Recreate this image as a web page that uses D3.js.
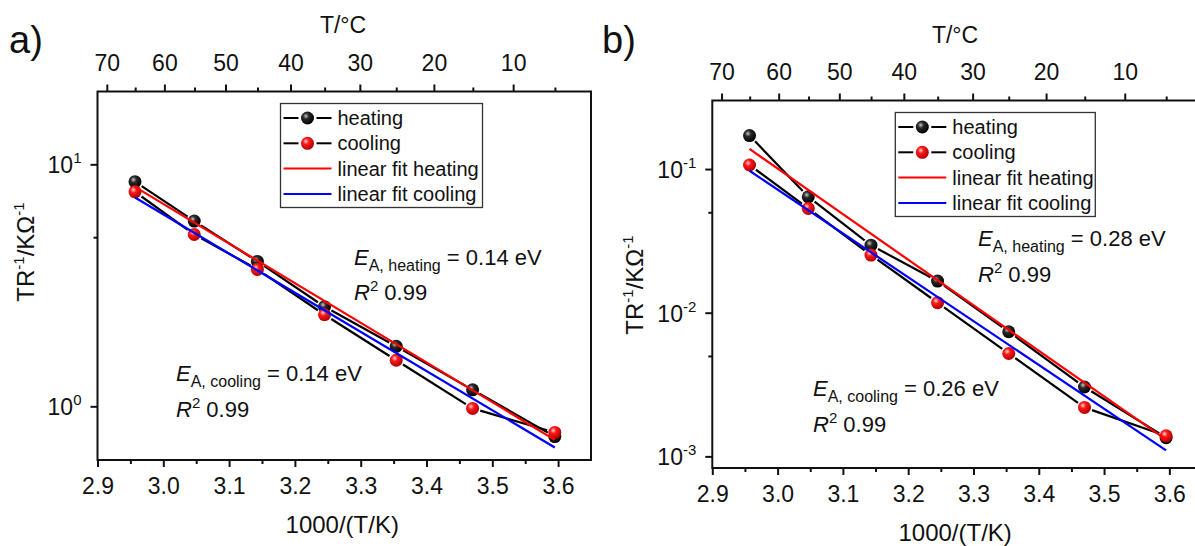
<!DOCTYPE html>
<html>
<head>
<meta charset="utf-8">
<script src="https://cdn.jsdelivr.net/npm/d3@7"></script>
<style>
  body { margin: 0; background: #fff; }
  svg { font-family: "Liberation Sans", Arial, sans-serif; }
</style>
</head>
<body>
<script>
// x-Werte: 1000/(T/K) für 65, 55, ... 5 °C
const invT = [2.957, 3.047, 3.143, 3.245, 3.354, 3.470, 3.595];

// Panel a
const heatingA = [8.48, 5.83, 3.97, 2.58, 1.77, 1.17, 0.75];
const coolingA = [7.70, 5.13, 3.68, 2.39, 1.55, 0.98, 0.78];
const fitHeatingA = [8.07, 0.727];   // Fit-Werte am ersten und letzten Punkt
const fitCoolingA = [7.29, 0.676];

// Panel b
const heatingB = [0.171, 0.0641, 0.0295, 0.0166, 0.00737, 0.00304, 0.00135];
const coolingB = [0.1067, 0.0532, 0.0252, 0.01175, 0.0052, 0.00219, 0.00139];
const fitHeatingB = [0.138, 0.001306];
const fitCoolingB = [0.0973, 0.0011];

// Achsen
const xMajor = [2.9, 3.0, 3.1, 3.2, 3.3, 3.4, 3.5, 3.6];
const xMinor = [2.95, 3.05, 3.15, 3.25, 3.35, 3.45, 3.55];
const topMajorC = [70, 60, 50, 40, 30, 20, 10];
const topMinorC = [65, 55, 45, 35, 25, 15, 5];
const legendLabels = ["heating", "cooling", "linear fit heating", "linear fit cooling"];

const W = 1195, H = 546;
const ink = "#111";
const svg = d3.select("body").append("svg").attr("width", W).attr("height", H);
svg.append("rect").attr("width", W).attr("height", H).attr("fill", "#fff");

// Kugel-Marker
const defs = svg.append("defs");
function sphere(id, hi, mid, dark) {
    const gr = defs.append("radialGradient").attr("id", id)
        .attr("cx", "38%").attr("cy", "35%").attr("r", "65%");
    gr.append("stop").attr("offset", "0%").attr("stop-color", hi);
    gr.append("stop").attr("offset", "35%").attr("stop-color", mid);
    gr.append("stop").attr("offset", "100%").attr("stop-color", dark);
}
sphere("ballBlack", "#c8c8c8", "#2a2a2a", "#000");
sphere("ballRed", "#ffd6d6", "#ff1a1a", "#b00000");

const toInvT = c => 1000 / (c + 273.15);

function drawPanel(p) {
    const x = d3.scaleLinear().domain([2.9, 3.65]).range([p.left, p.right]);
    const y = d3.scaleLog().domain(p.yDomain).range([p.bottom, p.top]);
    const g = svg.append("g");

    const styleAxis = sel => {
        sel.select(".domain").remove();
        sel.selectAll("line").attr("stroke", ink).attr("stroke-width", 2);
        sel.selectAll("text").attr("fill", ink).attr("font-size", 23)
            .attr("font-family", "Liberation Sans, Arial, sans-serif");
    };

    // unten
    g.append("g").attr("transform", `translate(0,${p.bottom})`)
        .call(d3.axisBottom(x).tickValues(xMajor).tickSize(7).tickSizeOuter(0).tickFormat(d3.format(".1f")))
        .call(styleAxis)
        .call(s => s.selectAll("text").attr("y", 34).attr("dy", 0));
    g.append("g").attr("transform", `translate(0,${p.bottom})`)
        .call(d3.axisBottom(x).tickValues(xMinor).tickSize(4).tickSizeOuter(0).tickFormat(""))
        .call(styleAxis);

    // oben: T/°C
    g.append("g").attr("transform", `translate(0,${p.top})`)
        .call(d3.axisTop(x).tickValues(topMajorC.map(toInvT)).tickSize(7).tickSizeOuter(0)
            .tickFormat((d, i) => topMajorC[i]))
        .call(styleAxis)
        .call(s => s.selectAll("text").attr("y", -p.topLabelGap).attr("dy", 0));
    g.append("g").attr("transform", `translate(0,${p.top})`)
        .call(d3.axisTop(x).tickValues(topMinorC.map(toInvT)).tickSize(4).tickSizeOuter(0).tickFormat(""))
        .call(styleAxis);

    // links (log)
    g.append("g").attr("transform", `translate(${p.left},0)`)
        .call(d3.axisLeft(y).tickValues(p.yMajor.map(e => Math.pow(10, e))).tickSize(7).tickSizeOuter(0).tickFormat(""))
        .call(styleAxis);
    g.append("g").attr("transform", `translate(${p.left},0)`)
        .call(d3.axisLeft(y).tickValues(p.yMinor).tickSize(4).tickSizeOuter(0).tickFormat(""))
        .call(styleAxis);
    p.yMajor.forEach(e => {
        const t = g.append("text").attr("x", p.left - 16).attr("y", y(Math.pow(10, e)) + 9)
            .attr("text-anchor", "end").attr("font-size", 23).attr("fill", ink);
        t.append("tspan").text("10");
        t.append("tspan").attr("font-size", 15).attr("dy", -10).text(String(e));
    });

    // Rahmen
    g.append("rect").attr("x", p.left).attr("y", p.top)
        .attr("width", p.right - p.left).attr("height", p.bottom - p.top)
        .attr("fill", "none").attr("stroke", ink).attr("stroke-width", 2);

    // Achsentitel
    g.append("text").attr("x", (p.left + p.right) / 2 - 2).attr("y", p.xTitleY)
        .attr("text-anchor", "middle").attr("font-size", 24).attr("fill", ink).text("1000/(T/K)");
    g.append("text").attr("x", p.topTitleX).attr("y", p.topTitleY)
        .attr("text-anchor", "middle").attr("font-size", 23).attr("fill", ink).text("T/°C");
    const yt = g.append("text")
        .attr("transform", `translate(${p.yTitleX},${p.yTitleY}) rotate(-90)`)
        .attr("text-anchor", "middle").attr("font-size", 24).attr("fill", ink);
    yt.append("tspan").text("TR");
    yt.append("tspan").attr("font-size", 15).attr("dy", -10).text("-1");
    yt.append("tspan").attr("dy", 10).text("/KΩ");
    yt.append("tspan").attr("font-size", 15).attr("dy", -10).text("-1");

    g.append("text").attr("x", p.tagX).attr("y", 53).attr("font-size", 38).attr("fill", ink).text(p.tag);

    // Verbindungslinien mit Lücke um die Symbole
    const gap = 8;
    function brokenLine(vals) {
        for (let i = 0; i < vals.length - 1; i++) {
            const x1 = x(invT[i]), y1 = y(vals[i]), x2 = x(invT[i + 1]), y2 = y(vals[i + 1]);
            const len = Math.hypot(x2 - x1, y2 - y1);
            if (len < 2 * gap) continue;
            const ux = (x2 - x1) / len, uy = (y2 - y1) / len;
            g.append("line")
                .attr("x1", x1 + ux * gap).attr("y1", y1 + uy * gap)
                .attr("x2", x2 - ux * gap).attr("y2", y2 - uy * gap)
                .attr("stroke", "#000").attr("stroke-width", 2.2);
        }
    }
    brokenLine(p.heating);
    brokenLine(p.cooling);

    // Marker
    g.selectAll(null).data(p.heating).join("circle")
        .attr("cx", (d, i) => x(invT[i])).attr("cy", d => y(d)).attr("r", 6.5)
        .attr("fill", "url(#ballBlack)");
    g.selectAll(null).data(p.cooling).join("circle")
        .attr("cx", (d, i) => x(invT[i])).attr("cy", d => y(d)).attr("r", 6.5)
        .attr("fill", "url(#ballRed)");

    // lineare Fits
    const xEnds = [invT[0], invT[invT.length - 1]];
    [[p.fitCooling, "#0000ff"], [p.fitHeating, "#ff0000"]].forEach(([f, c]) => {
        g.append("line")
            .attr("x1", x(xEnds[0])).attr("y1", y(f[0]))
            .attr("x2", x(xEnds[1])).attr("y2", y(f[1]))
            .attr("stroke", c).attr("stroke-width", 2.2);
    });

    // Legende
    const lx = p.left + 183, ly = p.top + 12;
    const lg = g.append("g");
    lg.append("rect").attr("x", lx).attr("y", ly).attr("width", p.legendW).attr("height", 104)
        .attr("fill", "#fff").attr("stroke", "#333").attr("stroke-width", 1.3);
    legendLabels.forEach((lab, i) => {
        const cy = ly + 14.5 + i * 25.3;
        const sx = lx + 3;
        if (i < 2) {
            lg.append("line").attr("x1", sx).attr("x2", sx + 15).attr("y1", cy).attr("y2", cy)
                .attr("stroke", "#000").attr("stroke-width", 2);
            lg.append("line").attr("x1", sx + 33).attr("x2", sx + 48).attr("y1", cy).attr("y2", cy)
                .attr("stroke", "#000").attr("stroke-width", 2);
            lg.append("circle").attr("cx", sx + 24).attr("cy", cy).attr("r", 6.5)
                .attr("fill", i === 0 ? "url(#ballBlack)" : "url(#ballRed)");
        } else {
            lg.append("line").attr("x1", sx).attr("x2", sx + 48).attr("y1", cy).attr("y2", cy)
                .attr("stroke", i === 2 ? "#ff0000" : "#0000ff").attr("stroke-width", 2);
        }
        lg.append("text").attr("x", sx + 54).attr("y", cy + 7)
            .attr("font-size", 20).attr("fill", ink).text(lab);
    });

    // Annotationen
    function annot(ax, ay, sub, ea) {
        const t1 = g.append("text").attr("x", ax).attr("y", ay).attr("font-size", 22).attr("fill", ink);
        t1.append("tspan").attr("font-style", "italic").text("E");
        t1.append("tspan").attr("font-size", 16).attr("dy", 6).text(sub);
        t1.append("tspan").attr("dy", -6).text(" = " + ea);
        const t2 = g.append("text").attr("x", ax).attr("y", ay + 35.5).attr("font-size", 22).attr("fill", ink);
        t2.append("tspan").attr("font-style", "italic").text("R");
        t2.append("tspan").attr("font-size", 15).attr("dy", -9).text("2");
        t2.append("tspan").attr("dy", 9).text(" 0.99");
    }
    annot(p.annH[0], p.annH[1], "A, heating", p.eaH);
    annot(p.annC[0], p.annC[1], "A, cooling", p.eaC);
}

drawPanel({
    tag: "a)", tagX: 9,
    left: 97.5, right: 591, top: 91.5, bottom: 460,
    yDomain: [0.6, 20], yMajor: [1, 0], yMinor: [5],
    heating: heatingA, cooling: coolingA, fitHeating: fitHeatingA, fitCooling: fitCoolingA,
    topLabelGap: 21, topTitleX: 343, topTitleY: 33, xTitleY: 533,
    yTitleX: 34, yTitleY: 252, legendW: 202,
    annH: [354, 264.5], annC: [176, 381], eaH: "0.14 eV", eaC: "0.14 eV"
});
drawPanel({
    tag: "b)", tagX: 602,
    left: 712.3, right: 1202, top: 100.5, bottom: 468,
    yDomain: [0.00083, 0.3], yMajor: [-1, -2, -3], yMinor: [0.05, 0.005],
    heating: heatingB, cooling: coolingB, fitHeating: fitHeatingB, fitCooling: fitCoolingB,
    topLabelGap: 21, topTitleX: 955, topTitleY: 43, xTitleY: 541,
    yTitleX: 643, yTitleY: 285, legendW: 200,
    annH: [978, 246], annC: [813, 396], eaH: "0.28 eV", eaC: "0.26 eV"
});
</script>
</body>
</html>
